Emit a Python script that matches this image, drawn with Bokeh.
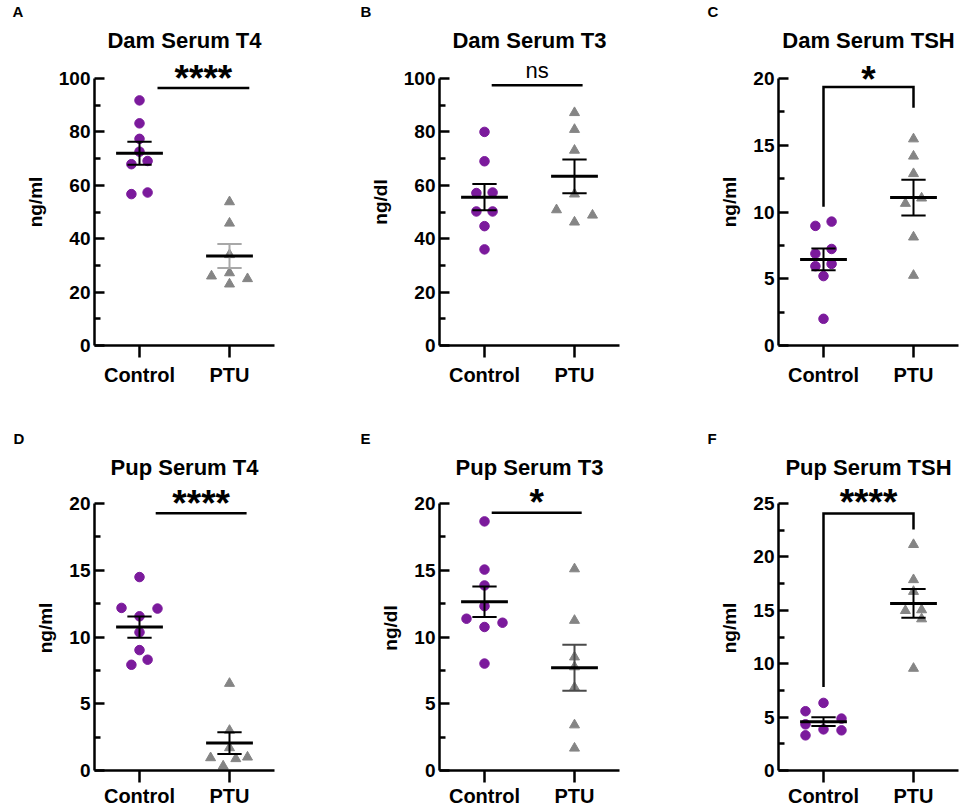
import numpy as np
from bokeh.plotting import figure
from bokeh.models import Range1d, FixedTicker, Title
from bokeh.layouts import row, column
from bokeh.core.properties import value
from bokeh.embed import file_html
from bokeh.resources import INLINE

FONT = "Liberation Sans"
PURPLE = "#7b1a9c"
GREY = "#858585"

categories = ["Control", "PTU"]
panel_letters = ["A", "B", "C", "D", "E", "F"]
panel_titles = ["Dam Serum T4", "Dam Serum T3", "Dam Serum TSH",
                "Pup Serum T4", "Pup Serum T3", "Pup Serum TSH"]
y_labels = ["ng/ml", "ng/dl", "ng/ml", "ng/ml", "ng/dl", "ng/ml"]
y_max = [100, 100, 20, 20, 20, 25]
y_step = [20, 20, 5, 5, 5, 5]
significance = ["****", "ns", "*", "****", "*", "****"]

# values
dam_t4_control = [91.8, 83.2, 77.4, 72.6, 67.9, 69.1, 56.7, 57.3]
dam_t4_ptu = [53.8, 45.8, 34.0, 27.2, 26.0, 25.0, 23.0]
dam_t3_control = [80.0, 69.0, 57.1, 57.3, 50.2, 50.2, 44.7, 36.0]
dam_t3_ptu = [87.2, 80.9, 73.1, 56.7, 50.8, 48.8, 46.2]
dam_tsh_control = [2.0, 8.96, 9.28, 6.88, 7.23, 5.94, 6.11, 5.2]
dam_tsh_ptu = [15.47, 14.18, 12.87, 10.64, 11.04, 8.12, 5.25]
pup_t4_control = [14.49, 12.18, 12.13, 11.55, 10.35, 9.02, 8.30, 7.92]
pup_t4_ptu = [6.52, 3.0, 1.7, 0.95, 1.0, 0.88, 0.33]
pup_t3_control = [18.66, 15.05, 13.86, 12.31, 11.37, 11.07, 10.75, 8.01]
pup_t3_ptu = [15.1, 11.24, 8.5, 7.76, 6.22, 3.41, 1.67]
pup_tsh_control = [6.33, 5.55, 4.86, 4.32, 3.76, 3.85, 3.29]
pup_tsh_ptu = [21.15, 17.86, 16.76, 14.97, 15.04, 14.19, 9.56]

# horizontal scatter offsets (fraction of category spacing)
jit_dam_t4_control = [0, 0, 0, 0, -0.09, 0.09, -0.09, 0.09]
jit_dam_t4_ptu = [0, 0, 0, 0, -0.2, 0.2, 0]
jit_dam_t3_control = [0, 0, -0.09, 0.09, -0.09, 0.09, 0, 0]
jit_dam_t3_ptu = [0, 0, 0, 0, -0.2, 0.2, 0]
jit_dam_tsh_control = [0, -0.09, 0.09, -0.09, 0.09, -0.09, 0.09, 0]
jit_dam_tsh_ptu = [0, 0, 0, -0.09, 0.09, 0, 0]
jit_pup_t4_control = [0, -0.2, 0.2, 0, 0, 0, 0.09, -0.09]
jit_pup_t4_ptu = [0, 0, 0, -0.21, 0.2, 0.07, -0.07]
jit_pup_t3_control = [0, 0, 0, 0, -0.2, 0.2, 0, 0]
jit_pup_t3_ptu = [0, 0, 0, 0, 0, 0, 0]
jit_pup_tsh_control = [0, -0.2, 0.2, -0.2, 0.2, 0, -0.2]
jit_pup_tsh_ptu = [0, 0, 0, -0.09, 0.09, 0.09, 0]

controls = [dam_t4_control, dam_t3_control, dam_tsh_control,
            pup_t4_control, pup_t3_control, pup_tsh_control]
ptus = [dam_t4_ptu, dam_t3_ptu, dam_tsh_ptu, pup_t4_ptu, pup_t3_ptu, pup_tsh_ptu]
jit_c = [jit_dam_t4_control, jit_dam_t3_control, jit_dam_tsh_control,
         jit_pup_t4_control, jit_pup_t3_control, jit_pup_tsh_control]
jit_p = [jit_dam_t4_ptu, jit_dam_t3_ptu, jit_dam_tsh_ptu,
         jit_pup_t4_ptu, jit_pup_t3_ptu, jit_pup_tsh_ptu]
ptu_err_color = ["#a8a8a8", "black", "black", "black", "#4a4a4a", "black"]

# significance annotation geometry (data units)
sig_kind = ["line", "line", "bracket", "line", "line", "bracket"]
sig_y = [96.4, 97.5, 19.36, 19.27, 19.3, 24.06]
sig_x0 = [1.2, 1.08, 1.0, 1.18, 1.08, 1.0]
sig_x1 = [2.22, 2.09, 2.0, 2.19, 2.08, 2.0]
sig_leg0 = [None, None, 10.4, None, None, 7.83]
sig_leg1 = [None, None, 17.8, None, None, 22.56]
sig_yoff = [-10, -15, -8, -10, -10, -11]

title_offset = [18, 11, 11, 15, 8, 12]
letter_offset = [-82, -79, -71, -81, -79, -71]

COLS = [dict(width=338, bl=94, br=64), dict(width=330, bl=101, br=49),
        dict(width=303, bl=110, br=13)]
ROWS = [dict(height=420, bt=58, bb=75, letter_standoff=1, x_standoff=6),
        dict(height=389, bt=65, bb=39, letter_standoff=1, x_standoff=2)]
AXIS_PX = 267


def make_panel(i):
    c = COLS[i % 3]
    r = ROWS[i // 3]
    frame_h = r["height"] - r["bt"] - r["bb"]
    y_end = y_max[i] * frame_h / AXIS_PX
    p = figure(width=c["width"], height=r["height"], title=None,
               x_range=Range1d(0.5, 2.5), y_range=Range1d(0, y_end),
               output_backend="svg", toolbar_location=None,
               min_border_left=c["bl"], min_border_right=c["br"],
               min_border_top=r["bt"], min_border_bottom=r["bb"])
    p.outline_line_color = None
    p.xgrid.visible = False
    p.ygrid.visible = False
    p.background_fill_color = "white"
    p.border_fill_color = "white"

    # y axis
    majors = list(np.arange(0, y_max[i] + 1e-9, y_step[i]))
    minors = [m + y_step[i] / 2 for m in majors[:-1]]
    yax = p.yaxis[0]
    yax.ticker = FixedTicker(ticks=majors, minor_ticks=minors)
    yax.bounds = (0, y_max[i])
    yax.axis_line_width = 2.5
    yax.major_tick_line_width = 2.5
    yax.minor_tick_line_width = 2.5
    yax.major_tick_in = 10
    yax.major_tick_out = 0
    yax.minor_tick_in = 6
    yax.minor_tick_out = 0
    yax.major_label_text_font = FONT
    yax.major_label_text_font_style = "bold"
    yax.major_label_text_font_size = "19px"
    yax.major_label_text_color = "black"
    yax.major_label_standoff = 4
    yax.axis_label = y_labels[i]
    yax.axis_label_text_font = FONT
    yax.axis_label_text_font_style = "bold"
    yax.axis_label_text_font_size = "19px"
    yax.axis_label_text_color = "black"
    yax.axis_label_standoff = 10
    yax.formatter.use_scientific = False

    # x axis
    xax = p.xaxis[0]
    xax.ticker = FixedTicker(ticks=[1, 2], minor_ticks=[])
    xax.major_label_overrides = {1: categories[0], 2: categories[1]}
    xax.axis_line_width = 2.5
    xax.major_tick_line_width = 2.5
    xax.major_tick_in = 0
    xax.major_tick_out = 12
    xax.minor_tick_line_color = None
    xax.major_label_text_font = FONT
    xax.major_label_text_font_style = "bold"
    xax.major_label_text_font_size = "20px"
    xax.major_label_text_line_height = 1.0
    xax.major_label_text_color = "black"
    xax.major_label_standoff = r["x_standoff"]

    # points
    cv = np.array(controls[i], dtype=float)
    pv = np.array(ptus[i], dtype=float)
    p.scatter(1 + np.array(jit_c[i]), cv, marker="circle", size=9.5,
              fill_color=PURPLE, line_color=PURPLE)
    p.scatter(2 + np.array(jit_p[i]), pv, marker="triangle", size=10,
              fill_color=GREY, line_color=GREY)

    # mean +/- SEM
    for xc, vals, col in [(1, cv, "black"), (2, pv, ptu_err_color[i])]:
        m = vals.mean()
        s = vals.std(ddof=1) / np.sqrt(len(vals))
        p.segment(x0=[xc], y0=[m - s], x1=[xc], y1=[m + s], line_color=col, line_width=2)
        p.segment(x0=[xc - 0.135, xc - 0.135], y0=[m - s, m + s],
                  x1=[xc + 0.135, xc + 0.135], y1=[m - s, m + s],
                  line_color=col, line_width=2)
        p.segment(x0=[xc - 0.26], y0=[m], x1=[xc + 0.26], y1=[m],
                  line_color="black", line_width=3)

    # significance
    if sig_kind[i] == "line":
        p.segment(x0=[sig_x0[i]], y0=[sig_y[i]], x1=[sig_x1[i]], y1=[sig_y[i]],
                  line_color="black", line_width=2.5)
    else:
        p.line(x=[1, 1, 2, 2], y=[sig_leg0[i], sig_y[i], sig_y[i], sig_leg1[i]],
               line_color="black", line_width=2.5, line_join="miter")
    is_ns = significance[i] == "ns"
    p.text(x=[(sig_x0[i] + sig_x1[i]) / 2], y=[sig_y[i]], text=[significance[i]],
           text_font=value(FONT),
           text_font_style="normal" if is_ns else "bold",
           text_font_size="22px" if is_ns else "37px",
           text_align="center", text_baseline="alphabetic",
           y_offset=sig_yoff[i], text_color="black")

    # titles
    p.add_layout(Title(text=panel_titles[i], align="center", offset=title_offset[i],
                       text_font=FONT, text_font_style="bold", text_color="black",
                       text_font_size="22px", standoff=11), "above")
    p.add_layout(Title(text=panel_letters[i], align="left", offset=letter_offset[i],
                       text_font=FONT, text_font_style="bold", text_color="black",
                       text_font_size="15px", standoff=r["letter_standoff"]), "above")
    return p


panels = [make_panel(i) for i in range(6)]
layout = column(row(*panels[:3]), row(*panels[3:]))

with open("out.html", "w") as f:
    f.write(file_html(layout, INLINE))
